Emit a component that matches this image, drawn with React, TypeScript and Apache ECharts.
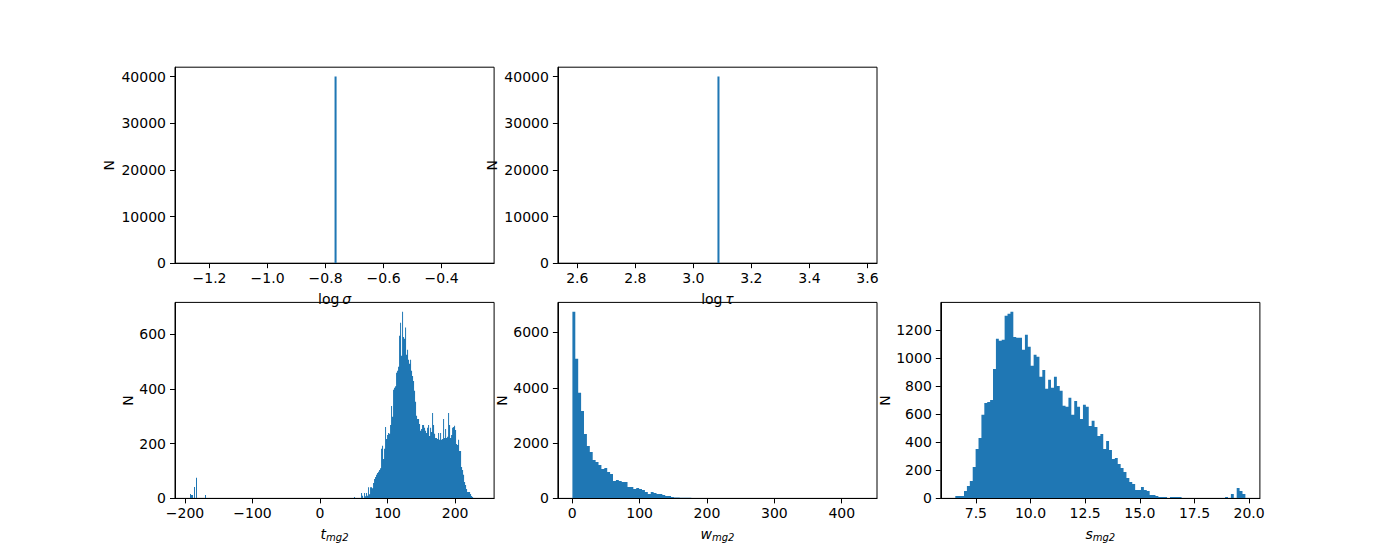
import React, { useEffect, useRef } from "react";
import * as echarts from "echarts";

// ---------- data ----------
const sigmaValue = -0.769;
const sigmaCount = 40000;
const tauValue = 3.083;
const tauCount = 40000;
const singleBinWidth = 0.007;

const tBinWidth = 1.4815;
const tLeftStart = -192.6;
const tLeftCounts = [16, 12, 12, 0, 42, 0, 75, 0, 0, 0, 0, 0, 0, 0, 0, 12];
const tMainStart = 50.37;
const tMainCounts = [
  5, 0, 0, 0, 0, 0, 0, 20, 10, 0, 20, 8, 20, 10, 41, 15, 41, 41, 37, 56,
  71, 78, 86, 93, 97, 104, 110, 181, 192, 144, 181, 261, 217, 232, 239, 236, 268, 338, 298, 397,
  404, 410, 459, 466, 481, 594, 642, 521, 682, 590, 583, 624, 525, 543, 507, 492, 507, 466, 447, 429,
  393, 353, 302, 290, 290, 272, 247, 254, 268, 268, 258, 247, 239, 258, 268, 228, 258, 243, 312, 268,
  236, 221, 221, 217, 239, 214, 239, 214, 217, 290, 221, 254, 221, 225, 312, 268, 221, 232, 258, 261,
  265, 250, 199, 195, 214, 173, 173, 115, 104, 86, 60, 49, 34, 23, 23, 23, 16, 9, 5, 1,
];
const tDataRange = [-193.3, 236.3];

const wStart = 0.3;
const wBinWidth = 4.305;
const wCounts = [
  6749, 5047, 3820, 3164, 2331, 1897, 1680, 1390, 1318, 1209,
  1064, 1100, 955, 883, 630, 666, 630, 593, 593, 412,
  412, 340, 376, 340, 304, 231, 159, 231, 195, 159,
  159, 123, 87, 87, 50, 30, 30, 25, 25, 20,
  20, 15, 8, 0, 0, 0, 0, 0, 0, 0,
  0, 0, 0, 0, 0, 0, 0, 0, 0, 0,
  0, 0, 0, 0, 0, 0, 0, 0, 0, 0,
  0, 0, 0, 0, 0, 0, 0, 0, 0, 0,
  0, 0, 0, 0, 0, 0, 0, 0, 0, 0,
  0, 0, 0, 0, 0, 0, 0, 0, 0, 1,
];
const wDataRange = [0.3, 430.8];

const sStart = 6.56;
const sBinWidth = 0.1327;
const sCounts = [
  17, 17, 17, 53, 88, 124, 224, 352, 430, 595,
  680, 687, 701, 922, 1136, 1122, 1129, 1300, 1314, 1329,
  1150, 1143, 1143, 1058, 1165, 1079, 944, 1022, 1008, 866,
  915, 780, 845, 787, 866, 801, 766, 659, 652, 716,
  595, 694, 652, 566, 666, 652, 516, 552, 509, 445,
  459, 352, 409, 345, 281, 288, 245, 217, 188, 145,
  117, 103, 60, 60, 81, 60, 53, 24, 24, 17,
  10, 10, 10, 0, 10, 10, 10, 10, 0, 0,
  0, 0, 0, 0, 0, 0, 0, 0, 0, 0,
  0, 0, 0, 10, 0, 31, 0, 74, 53, 31,
];
const sDataRange = [6.56, 19.83];

// tick labels
const sigmaTicks = [-1.2, -1.0, -0.8, -0.6, -0.4];
const tauTicks = [2.6, 2.8, 3.0, 3.2, 3.4, 3.6];
const tTicks = [-200, -100, 0, 100, 200];
const wTicks = [0, 100, 200, 300, 400];
const sTicks = [7.5, 10.0, 12.5, 15.0, 17.5, 20.0];
const topYTicks = [0, 10000, 20000, 30000, 40000];
const tYTicks = [0, 200, 400, 600];
const wYTicks = [0, 2000, 4000, 6000];
const sYTicks = [0, 200, 400, 600, 800, 1000, 1200];

// ---------- helpers ----------
const FONT = "DejaVu Sans";
const BAR = "#1f77b4";

type Seg = { start: number; width: number; counts: number[] };

function pad(range: number[]) {
  const d = range[1] - range[0];
  return [range[0] - 0.05 * d, range[1] + 0.05 * d];
}

function fmt(dec: number) {
  return (v: number) => {
    const s = (Math.abs(v) < 1e-9 ? 0 : v).toFixed(dec);
    return s.replace("-", "\u2212");
  };
}

const L = [175, 557.9, 940.8];
const T = [67.2, 302.4];
const GW = 319.1;
const GH = 196;

const rich = {
  r: { fontFamily: FONT, fontSize: 14, color: "#000" },
  i: { fontFamily: FONT, fontSize: 14, fontStyle: "italic", color: "#000" },
  s: { fontFamily: FONT, fontSize: 10, fontStyle: "italic", color: "#000", padding: [7, 0, 0, 0] },
};

function xAxis(idx: number, range: number[], ticks: number[], dec: number, name: string, gap: number) {
  return {
    type: "value",
    gridIndex: idx,
    min: range[0],
    max: range[1],
    z: 10,
    name,
    nameLocation: "middle",
    nameGap: gap,
    nameTextStyle: { rich },
    axisLine: { show: true, onZero: false, lineStyle: { color: "#000", width: 1 } },
    axisTick: { show: true, length: 5, lineStyle: { color: "#000", width: 1 }, customValues: ticks },
    axisLabel: {
      customValues: ticks,
      formatter: fmt(dec),
      color: "#000",
      fontFamily: FONT,
      fontSize: 14,
      margin: 8,
    },
    splitLine: { show: false },
  };
}

function yAxis(idx: number, max: number, ticks: number[], gap: number) {
  return {
    type: "value",
    gridIndex: idx,
    min: 0,
    max,
    z: 10,
    name: "N",
    nameLocation: "middle",
    nameRotate: 90,
    nameGap: gap,
    nameTextStyle: { fontFamily: FONT, fontSize: 14, color: "#000" },
    axisLine: { show: true, onZero: false, lineStyle: { color: "#000", width: 1 } },
    axisTick: { show: true, length: 5, lineStyle: { color: "#000", width: 1 }, customValues: ticks },
    axisLabel: {
      customValues: ticks,
      formatter: fmt(0),
      color: "#000",
      fontFamily: FONT,
      fontSize: 14,
      margin: 9,
    },
    splitLine: { show: false },
  };
}

// One custom item per histogram segment; each is drawn as a single stepped
// polygon through the axis scales (avoids anti-aliasing seams between bins).
function histSeries(idx: number, segs: Seg[]) {
  return {
    type: "custom",
    xAxisIndex: idx,
    yAxisIndex: idx,
    silent: true,
    clip: true,
    data: segs.map((s, i) => [s.start, 0, i]),
    renderItem: (params: any, api: any) => {
      const seg = segs[params.dataIndex];
      const pts: number[][] = [];
      pts.push(api.coord([seg.start, 0]));
      seg.counts.forEach((c, i) => {
        const x0 = seg.start + i * seg.width;
        const x1 = x0 + seg.width;
        pts.push(api.coord([x0, c]));
        pts.push(api.coord([x1, c]));
      });
      pts.push(api.coord([seg.start + seg.counts.length * seg.width, 0]));
      return {
        type: "polygon",
        shape: { points: pts },
        style: { fill: BAR },
      };
    },
  };
}

const maxOf = (arr: number[]) => Math.max(...arr);

export default function App() {
  const ref = useRef<HTMLDivElement>(null);
  useEffect(() => {
    if (!ref.current) return;
    const chart = echarts.init(ref.current, null, { renderer: "svg" });

    const grids = [
      [L[0], T[0]],
      [L[1], T[0]],
      [L[0], T[1]],
      [L[1], T[1]],
      [L[2], T[1]],
    ].map(([l, t]) => ({
      left: l,
      top: t,
      width: GW,
      height: GH,
      show: true,
      borderColor: "#000",
      borderWidth: 1,
      backgroundColor: "transparent",
      containLabel: false,
    }));

    const option = {
      animation: false,
      backgroundColor: "#fff",
      textStyle: { fontFamily: FONT },
      grid: grids,
      xAxis: [
        xAxis(0, [sigmaValue - 0.55, sigmaValue + 0.55], sigmaTicks, 1, "{r|log\u2009}{i|σ}", 29),
        xAxis(1, [tauValue - 0.55, tauValue + 0.55], tauTicks, 1, "{r|log\u2009}{i|τ}", 29),
        xAxis(2, pad(tDataRange), tTicks, 0, "{i|t}{s|mg2}", 27),
        xAxis(3, pad(wDataRange), wTicks, 0, "{i|w}{s|mg2}", 27),
        xAxis(4, pad(sDataRange), sTicks, 1, "{i|s}{s|mg2}", 27),
      ],
      yAxis: [
        yAxis(0, sigmaCount * 1.05, topYTicks, 59),
        yAxis(1, tauCount * 1.05, topYTicks, 59),
        yAxis(2, maxOf([...tMainCounts, ...tLeftCounts]) * 1.05, tYTicks, 40),
        yAxis(3, maxOf(wCounts) * 1.05, wYTicks, 49),
        yAxis(4, maxOf(sCounts) * 1.05, sYTicks, 49),
      ],
      series: [
        histSeries(0, [{ start: sigmaValue, width: singleBinWidth, counts: [sigmaCount] }]),
        histSeries(1, [{ start: tauValue, width: singleBinWidth, counts: [tauCount] }]),
        histSeries(2, [
          { start: tLeftStart, width: tBinWidth, counts: tLeftCounts },
          { start: tMainStart, width: tBinWidth, counts: tMainCounts },
        ]),
        histSeries(3, [{ start: wStart, width: wBinWidth, counts: wCounts }]),
        histSeries(4, [{ start: sStart, width: sBinWidth, counts: sCounts }]),
      ],
    };
    chart.setOption(option as any);
    return () => chart.dispose();
  }, []);
  return (
    <div
      ref={ref}
      style={{ position: "absolute", left: 0, top: 0, width: 1400, height: 560, background: "#fff" }}
    />
  );
}
